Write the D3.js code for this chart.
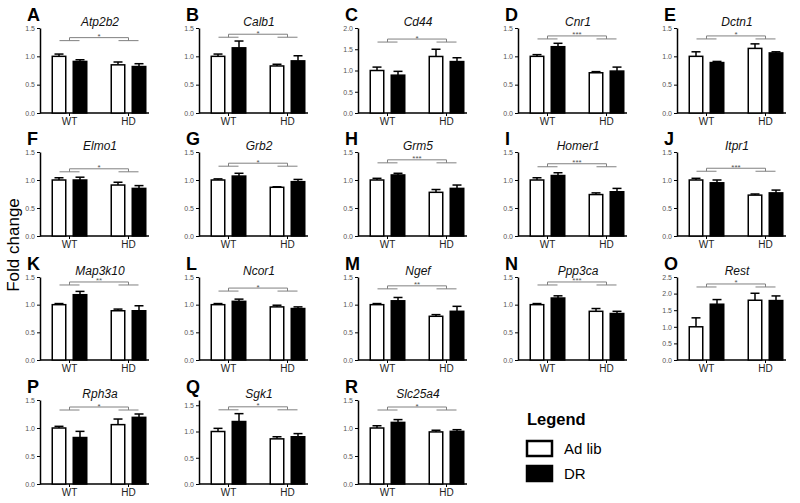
<!DOCTYPE html>
<html>
<head>
<meta charset="utf-8">
<script src="https://cdn.jsdelivr.net/npm/d3@7"></script>
<style>
  html, body { margin: 0; padding: 0; background: #fff; }
  svg { display: block; font-family: "Liberation Sans", Arial, sans-serif; }
</style>
</head>
<body>
<svg id="chart" width="800" height="503"></svg>
<script>
// ---------------- data ----------------
const panelLetters = ["A","B","C","D","E","F","G","H","I","J","K","L","M","N","O","P","Q","R"];
const genes = ["Atp2b2","Calb1","Cd44","Cnr1","Dctn1","Elmo1","Grb2","Grm5","Homer1","Itpr1",
               "Map3k10","Ncor1","Ngef","Ppp3ca","Rest","Rph3a","Sgk1","Slc25a4"];
const groups = ["WT","HD"];
const series = ["Ad lib","DR"];
// mean values [WT, HD]
const adlibMean = [[1.00,0.85],[1.00,0.83],[1.00,1.33],[1.00,0.71],[1.00,1.14],[1.00,0.91],[1.00,0.87],[1.00,0.78],[1.00,0.74],[1.00,0.73],
                   [1.00,0.89],[1.00,0.96],[1.00,0.79],[1.00,0.88],[1.00,1.80],[1.00,1.06],[1.00,0.86],[1.00,0.93]];
const adlibErr  = [[0.04,0.05],[0.04,0.03],[0.08,0.17],[0.03,0.02],[0.08,0.08],[0.04,0.05],[0.02,0.01],[0.03,0.05],[0.04,0.03],[0.03,0.02],
                   [0.02,0.03],[0.02,0.03],[0.02,0.03],[0.02,0.05],[0.27,0.21],[0.03,0.10],[0.06,0.04],[0.04,0.03]];
const drMean    = [[0.91,0.82],[1.15,0.92],[0.89,1.21],[1.17,0.74],[0.89,1.06],[1.00,0.85],[1.07,0.97],[1.09,0.85],[1.08,0.79],[0.95,0.77],
                   [1.18,0.89],[1.06,0.93],[1.07,0.88],[1.12,0.84],[1.68,1.79],[0.83,1.19],[1.19,0.90],[1.10,0.94]];
const drErr     = [[0.03,0.05],[0.12,0.09],[0.09,0.09],[0.06,0.07],[0.02,0.02],[0.05,0.05],[0.05,0.04],[0.03,0.06],[0.05,0.06],[0.05,0.05],
                   [0.06,0.09],[0.04,0.03],[0.06,0.09],[0.04,0.04],[0.14,0.14],[0.11,0.06],[0.15,0.06],[0.05,0.03]];
const sigLabels = ["*","*","*","***","*","*","*","***","***","***","**","*","**","***","*","*","*","*"];
const bracketLevel = [1.33,1.39,1.74,1.36,1.36,1.20,1.30,1.36,1.29,1.21,1.41,1.30,1.34,1.41,2.29,1.375,1.47,1.375];
const yMax = [1.5,1.5,2.0,1.5,1.5,1.5,1.5,1.5,1.5,1.5,1.5,1.5,1.5,1.5,2.5,1.5,1.6,1.5];
const yTickMax = [1.5,1.5,2.0,1.5,1.5,1.5,1.5,1.5,1.5,1.5,1.5,1.5,1.5,1.5,2.5,1.5,1.5,1.5];
const yLabel = "Fold change";
const legendTitle = "Legend";

// ---------------- layout ----------------
const colX = [40, 199, 358, 518, 677];
const rowTop = [28, 152, 277, 400];
const rowBottom = [113, 236, 360, 484];
const plotW = 118;      // band range
const axisLen = 109;    // x axis line length

const svg = d3.select("#chart");

const xGroup = d3.scaleBand().domain(groups).range([0, plotW]).paddingInner(0).paddingOuter(0);
const xSeries = d3.scaleBand().domain(series)
  .range([xGroup.bandwidth()/2 - 18, xGroup.bandwidth()/2 + 18])
  .paddingInner(2 - 36/21).paddingOuter(0);

genes.forEach((gene, i) => {
  const col = i % 5, row = Math.floor(i / 5);
  const x0 = colX[col], top = rowTop[row], bottom = rowBottom[row];
  const g = svg.append("g").attr("transform", `translate(${x0},0)`);
  const y = d3.scaleLinear().domain([0, yMax[i]]).range([bottom, top]);

  // letter
  g.append("text").attr("x", -13).attr("y", top - 7)
    .attr("font-size", 18).attr("font-weight", "bold").attr("fill", "#000")
    .text(panelLetters[i]);
  // title
  g.append("text").attr("x", 60).attr("y", top - 2).attr("text-anchor", "middle")
    .attr("font-size", 12).attr("font-style", "italic").attr("fill", "#111")
    .text(gene);

  // y axis
  const ticks = d3.range(0, yTickMax[i] + 0.001, 0.5);
  const yAxis = d3.axisLeft(y).tickValues(ticks).tickFormat(d3.format(".1f"))
    .tickSize(3).tickSizeOuter(0).tickPadding(2);
  const ya = g.append("g").call(yAxis);
  ya.select(".domain").attr("stroke", "#000").attr("stroke-width", 1.5);
  ya.selectAll(".tick line").attr("stroke", "#000").attr("stroke-width", 1);
  ya.selectAll(".tick text").attr("font-size", 7).attr("fill", "#555")
    .attr("font-family", "Liberation Sans, Arial, sans-serif");

  // x axis
  const xAxis = d3.axisBottom(xGroup).tickSize(3).tickSizeOuter(0).tickPadding(2);
  const xa = g.append("g").attr("transform", `translate(0,${bottom})`).call(xAxis);
  xa.select(".domain").remove();
  xa.selectAll(".tick line").attr("stroke", "#000").attr("stroke-width", 1);
  xa.selectAll(".tick text").attr("font-size", 10).attr("fill", "#222")
    .attr("font-family", "Liberation Sans, Arial, sans-serif");
  g.append("line").attr("x1", 0).attr("x2", axisLen).attr("y1", bottom).attr("y2", bottom)
    .attr("stroke", "#000").attr("stroke-width", 1.5);

  // bars
  const rows = [];
  groups.forEach((grp, gi) => {
    rows.push({grp, s: series[0], m: adlibMean[i][gi], e: adlibErr[i][gi]});
    rows.push({grp, s: series[1], m: drMean[i][gi], e: drErr[i][gi]});
  });
  const bx = d => xGroup(d.grp) + xSeries(d.s);
  const bw = xSeries.bandwidth();

  rows.forEach(d => {
    const cx = bx(d) + bw/2;
    g.append("line").attr("x1", cx).attr("x2", cx).attr("y1", y(d.m)).attr("y2", y(d.m + d.e))
      .attr("stroke", "#000").attr("stroke-width", 1.5);
    g.append("line").attr("x1", cx - 4.5).attr("x2", cx + 4.5).attr("y1", y(d.m + d.e)).attr("y2", y(d.m + d.e))
      .attr("stroke", "#000").attr("stroke-width", 1.5);
  });
  g.selectAll("rect.bar").data(rows).enter().append("rect").attr("class", "bar")
    .attr("x", d => bx(d) + 0.75).attr("width", bw - 1.5)
    .attr("y", d => y(d.m)).attr("height", d => y(0) - y(d.m))
    .attr("fill", d => d.s === series[0] ? "#fff" : "#000")
    .attr("stroke", "#000").attr("stroke-width", 1.5);

  // significance bracket
  const yt = y(bracketLevel[i]);
  const yb = yt + 3;
  const c1 = xGroup(groups[0]) + xGroup.bandwidth()/2;
  const c2 = xGroup(groups[1]) + xGroup.bandwidth()/2;
  const br = g.append("g").attr("stroke", "#808080").attr("stroke-width", 1).attr("fill", "none");
  [c1, c2].forEach(c => {
    br.append("line").attr("x1", c - 10).attr("x2", c + 10).attr("y1", yb).attr("y2", yb);
    br.append("line").attr("x1", c).attr("x2", c).attr("y1", yb).attr("y2", yt);
  });
  br.append("line").attr("x1", c1).attr("x2", c2).attr("y1", yt).attr("y2", yt);
  g.append("text").attr("x", (c1 + c2)/2).attr("y", yt + 1.5).attr("text-anchor", "middle")
    .attr("font-size", 8).attr("fill", "#555").text(sigLabels[i]);
});

// y label
svg.append("text").attr("transform", "translate(19,245) rotate(-90)")
  .attr("text-anchor", "middle").attr("font-size", 17).attr("fill", "#000").text(yLabel);

// legend
const lg = svg.append("g");
lg.append("text").attr("x", 527).attr("y", 425).attr("font-size", 16.5).attr("font-weight", "bold")
  .attr("fill", "#000").text(legendTitle);
series.forEach((s, k) => {
  const yy = 441 + k * 25;
  lg.append("rect").attr("x", 527).attr("y", yy).attr("width", 25).attr("height", 15)
    .attr("fill", k === 0 ? "#fff" : "#000").attr("stroke", "#000").attr("stroke-width", 2.5);
  lg.append("text").attr("x", 564).attr("y", yy + 13).attr("font-size", 15).attr("fill", "#000").text(s);
});
</script>
</body>
</html>
